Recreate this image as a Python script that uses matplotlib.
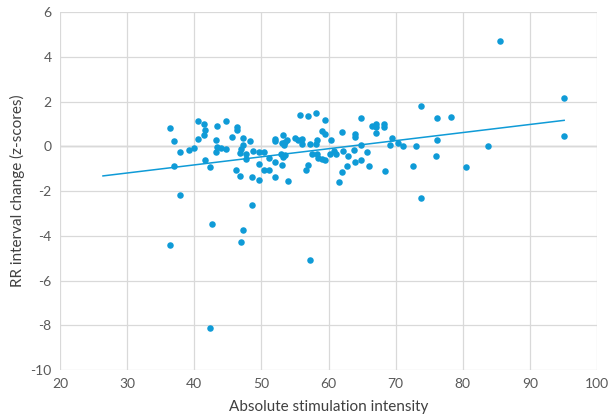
import numpy as np
import matplotlib.pyplot as plt

# Stimulation intensity vs RR interval change (z-scores)
intensity = [36.4, 37.0, 37.8, 37.0, 37.8, 39.2, 39.9, 40.6, 41.4, 41.6,
             41.4, 40.6, 43.4, 44.8, 43.2, 41.6, 42.4, 43.2, 43.4, 44.0,
             44.8, 45.6, 46.4, 46.4, 47.2, 48.3, 47.2, 46.9, 46.8, 47.7,
             47.7, 48.8, 49.6, 50.4, 46.2, 46.8, 48.6, 49.6, 49.7, 50.4,
             51.2, 51.2, 52.0, 52.0, 53.0, 52.9, 53.2, 53.5, 54.0, 52.1,
             52.1, 53.2, 53.0, 53.5, 53.8, 55.0, 55.5, 55.8, 48.6, 56.9,
             58.1, 59.4, 59.0, 59.4, 56.1, 56.1, 57.2, 58.1, 58.3, 60.3,
             62.0, 63.9, 63.9, 64.9, 66.5, 67.0, 67.1, 67.1, 68.2, 68.2,
             69.4, 70.4, 71.1, 73.0, 69.1, 64.9, 63.8, 62.2, 60.8, 61.1,
             60.2, 57.5, 58.3, 58.4, 59.0, 59.4, 62.9, 65.7, 64.8, 64.0,
             62.7, 62.0, 61.6, 66.0, 68.4, 72.6, 57.0, 56.7, 73.7, 73.7,
             53.3, 85.6, 95.1, 95.1, 76.1, 78.2, 76.1, 83.7, 76.0, 80.5,
             42.7, 47.2, 46.9, 36.4, 57.2, 42.4]
rr_change = [0.83, 0.22, -0.27, -0.88, -2.19, -0.15, -0.07, 1.12, 0.98, 0.74,
             0.52, 0.34, 0.89, 1.12, 0.27, -0.59, -0.94, -0.24, -0.03, -0.06,
             -0.13, 0.43, 0.86, 0.71, 0.39, 0.24, 0.08, -0.10, -0.30, -0.36,
             -0.57, -0.21, -0.24, -0.27, -1.06, -1.31, -1.35, -1.52, -0.80, -1.04,
             -1.04, -0.52, -0.70, -1.35, -0.82, -0.36, -0.48, -0.37, -1.55, 0.34,
             0.24, 0.52, 0.17, 0.19, 0.27, 0.38, 0.27, 1.42, -2.60, 1.37,
             1.49, 1.19, 0.67, 0.54, 0.31, 0.09, 0.09, 0.09, 0.27, 0.30,
             0.63, 0.57, 0.40, 1.26, 0.89, 0.98, 0.86, 0.59, 0.98, 0.85,
             0.39, 0.17, 0.01, 0.00, 0.04, 0.04, -0.15, -0.22, -0.21, -0.33,
             -0.36, -0.36, -0.36, -0.51, -0.55, -0.59, -0.42, -0.27, -0.59, -0.70,
             -0.89, -1.16, -1.59, -0.89, -1.10, -0.89, -0.85, -1.07, 1.79, -2.29,
             0.04, 4.69, 2.16, 0.46, 1.25, 1.31, 0.28, 0.00, -0.45, -0.91,
             -3.48, -3.72, -4.29, -4.43, -5.07, -8.14]

x = np.array(intensity)
y = np.array(rr_change)

plt.rcParams['font.family'] = ['Lato', 'DejaVu Sans']
plt.rcParams['axes.unicode_minus'] = False
blue = '#0F9BD7'

fig = plt.figure(figsize=(6.08, 4.2), dpi=100)
ax = fig.add_axes([0.0987, 0.119, 0.8833, 0.852])

ax.scatter(x, y, s=22, color=blue, zorder=3, linewidths=0)

# linear trendline, extended 10 units backwards like the original
slope, intercept = np.polyfit(x, y, 1)
xt = np.array([x.min() - 10, x.max()])
ax.plot(xt, slope * xt + intercept, color=blue, lw=1.1, zorder=2)

ax.set_xlim(20, 100)
ax.set_ylim(-10, 6)
ax.set_xticks(range(20, 101, 10))
ax.set_yticks(range(-10, 7, 2))
ax.grid(True, color='#D9D9D9', lw=0.9)
ax.axhline(0, color='#BFBFBF', lw=1.0, zorder=1)
for s in ax.spines.values():
    s.set_visible(False)
ax.tick_params(length=0, labelsize=10, colors='#595959', pad=6)
ax.set_xlabel('Absolute stimulation intensity', fontsize=11, color='#404040', labelpad=7)
ax.set_ylabel('RR interval change (z-scores)', fontsize=11, color='#404040', labelpad=4)

fig.savefig('out.png', dpi=100)
